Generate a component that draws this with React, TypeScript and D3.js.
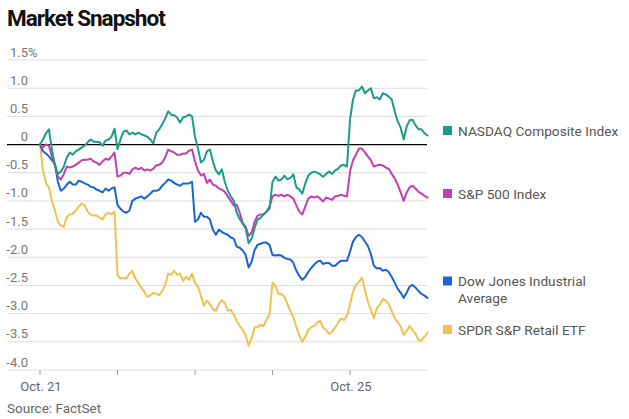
import React from "react";
import * as d3 from "d3";

// Percent change from Oct. 21 open, sampled every 15 minutes (26 intervals per trading day)
const dayLabels = ["Oct. 21", "", "", "", "Oct. 25"];
const intervalsPerDay = 26;
const yTicks = [1.5, 1.0, 0.5, 0, -0.5, -1.0, -1.5, -2.0, -2.5, -3.0, -3.5, -4.0];
const seriesNames = ["NASDAQ Composite Index", "S&P 500 Index", "Dow Jones Industrial Average", "SPDR S&P Retail ETF"];

const nasdaq = [
  0.00, 0.09, 0.20, 0.27, -0.09, -0.36, -0.52, -0.48, -0.39, -0.23, -0.14, -0.18, -0.12, -0.09, -0.05, -0.02, 0.04, 0.09, 0.05, 0.05, 0.04, -0.02, 0.07, 0.09, 0.14, 0.28,
  -0.08, 0.09, 0.23, 0.25, 0.18, 0.21, 0.18, 0.21, 0.18, 0.16, 0.14, 0.09, 0.02, 0.21, 0.27, 0.36, 0.46, 0.59, 0.53, 0.52, 0.48, 0.39, 0.48, 0.50, 0.53, 0.50,
  0.14, -0.07, -0.32, -0.27, -0.12, -0.09, -0.30, -0.46, -0.53, -0.44, -0.66, -0.82, -0.92, -1.00, -1.21, -1.32, -1.40, -1.49, -1.75, -1.67, -1.48, -1.33, -1.30, -1.24, -1.19, -1.14,
  -0.66, -0.57, -0.64, -0.62, -0.55, -0.62, -0.59, -0.53, -0.76, -0.80, -0.87, -0.69, -0.55, -0.50, -0.48, -0.50, -0.53, -0.57, -0.52, -0.48, -0.52, -0.46, -0.43, -0.37, -0.36, -0.39,
  0.44, 0.80, 0.96, 0.96, 1.03, 0.91, 0.96, 1.00, 0.82, 0.84, 0.80, 0.91, 0.89, 0.85, 0.80, 0.59, 0.41, 0.30, 0.09, 0.32, 0.43, 0.44, 0.34, 0.27, 0.27, 0.20, 0.16,
];

const sp500 = [
  0.00, -0.05, 0.00, -0.02, -0.21, -0.37, -0.57, -0.62, -0.52, -0.39, -0.41, -0.39, -0.36, -0.32, -0.28, -0.27, -0.27, -0.25, -0.30, -0.32, -0.36, -0.30, -0.25, -0.27, -0.21, -0.14,
  -0.57, -0.55, -0.50, -0.50, -0.52, -0.44, -0.41, -0.44, -0.41, -0.46, -0.44, -0.46, -0.43, -0.37, -0.36, -0.32, -0.23, -0.09, -0.12, -0.14, -0.18, -0.18, -0.16, -0.16, -0.11, -0.09,
  -0.30, -0.46, -0.55, -0.52, -0.68, -0.62, -0.71, -0.73, -0.78, -0.80, -0.84, -0.92, -1.00, -1.08, -1.07, -1.21, -1.39, -1.46, -1.62, -1.56, -1.37, -1.26, -1.24, -1.24, -1.19, -1.10,
  -0.92, -0.89, -0.91, -0.89, -0.92, -0.89, -0.92, -0.96, -1.08, -1.19, -1.24, -1.10, -0.96, -0.92, -0.94, -0.92, -0.96, -1.01, -0.94, -0.96, -0.98, -0.92, -0.91, -0.89, -0.91, -0.92,
  -0.48, -0.28, -0.18, -0.07, -0.07, -0.14, -0.21, -0.28, -0.39, -0.37, -0.36, -0.37, -0.41, -0.43, -0.52, -0.60, -0.71, -0.85, -1.00, -0.85, -0.76, -0.73, -0.78, -0.84, -0.87, -0.91, -0.94,
];

const dow = [
  0.00, -0.12, -0.16, -0.21, -0.28, -0.34, -0.66, -0.82, -0.78, -0.71, -0.66, -0.71, -0.71, -0.64, -0.66, -0.69, -0.71, -0.75, -0.76, -0.80, -0.82, -0.85, -0.78, -0.82, -0.78, -0.76,
  -1.07, -1.14, -1.19, -1.21, -1.17, -1.00, -0.96, -0.94, -0.92, -0.96, -0.92, -0.87, -0.82, -0.82, -0.80, -0.73, -0.68, -0.62, -0.64, -0.68, -0.71, -0.73, -0.69, -0.69, -0.69, -0.66,
  -1.37, -1.33, -1.21, -1.28, -1.28, -1.33, -1.51, -1.60, -1.51, -1.55, -1.58, -1.60, -1.65, -1.67, -1.81, -1.83, -1.88, -1.96, -2.18, -2.08, -1.87, -1.78, -1.76, -1.74, -1.74, -1.78,
  -1.96, -1.97, -1.96, -1.97, -2.01, -2.03, -2.04, -2.10, -2.24, -2.33, -2.40, -2.35, -2.26, -2.19, -2.13, -2.08, -2.06, -2.12, -2.10, -2.10, -2.15, -2.15, -2.10, -2.06, -2.06, -2.06,
  -1.90, -1.72, -1.64, -1.60, -1.64, -1.72, -1.80, -1.94, -2.15, -2.20, -2.19, -2.24, -2.22, -2.26, -2.35, -2.45, -2.56, -2.63, -2.72, -2.63, -2.52, -2.49, -2.54, -2.60, -2.65, -2.68, -2.72,
];

const retail = [
  0.00, -0.46, -0.68, -0.76, -1.00, -1.17, -1.37, -1.44, -1.46, -1.28, -1.24, -1.23, -1.17, -1.10, -1.05, -1.08, -1.19, -1.24, -1.26, -1.26, -1.30, -1.33, -1.24, -1.21, -1.24, -1.19,
  -2.31, -2.38, -2.36, -2.38, -2.29, -2.24, -2.38, -2.45, -2.54, -2.61, -2.70, -2.68, -2.63, -2.65, -2.67, -2.60, -2.49, -2.29, -2.31, -2.24, -2.31, -2.29, -2.42, -2.35, -2.40, -2.29,
  -2.45, -2.52, -2.68, -2.86, -2.77, -2.83, -2.92, -2.95, -2.83, -2.76, -2.81, -2.95, -2.93, -3.02, -3.13, -3.22, -3.29, -3.38, -3.57, -3.43, -3.24, -3.24, -3.20, -3.22, -3.11, -3.02,
  -2.45, -2.51, -2.65, -2.65, -2.70, -2.83, -2.95, -3.06, -3.24, -3.38, -3.50, -3.41, -3.29, -3.24, -3.22, -3.16, -3.13, -3.25, -3.29, -3.36, -3.32, -3.25, -3.16, -3.09, -3.11, -3.04,
  -2.84, -2.61, -2.49, -2.44, -2.36, -2.58, -2.79, -2.93, -3.08, -2.90, -2.84, -2.74, -2.77, -2.83, -2.95, -3.08, -3.15, -3.22, -3.38, -3.31, -3.22, -3.29, -3.36, -3.47, -3.47, -3.41, -3.34,
];

const colors = ["#1e9a8b", "#c13fb3", "#1863d6", "#f1c14f"];
const legendY = [130.5, 193.5, 281, 329.5];

const W = 629;
const H = 419;
const FONT = "Roboto, 'Liberation Sans', Arial, sans-serif";

export default function App() {
  const nDays = dayLabels.length;
  const x = d3.scaleLinear().domain([0, nDays * intervalsPerDay]).range([40, 427.5]);
  const y = d3.scaleLinear().domain([-4, 1.5]).range([370, 60]);
  const gridX0 = 7;
  const gridX1 = 427;

  const line = d3
    .line<number>()
    .x((_, i) => x(i))
    .y((v) => y(v));

  const series = [nasdaq, sp500, dow, retail];
  const drawOrder = [3, 2, 1, 0];

  return (
    <svg
      width={W}
      height={H}
      style={{ position: "absolute", left: 0, top: 0, background: "#fff" }}
      fontFamily={FONT}
    >
      <text x={7} y={26} fontSize={22.5} fontWeight={700} fill="#111" letterSpacing={-1}>
        Market Snapshot
      </text>

      {yTicks.map((t, k) => (
        <g key={t}>
          <line
            x1={gridX0}
            x2={gridX1}
            y1={y(t)}
            y2={y(t)}
            stroke={t === 0 ? "#000" : "#dcdcdc"}
            strokeWidth={t === 0 ? 1.3 : 1}
          />
          <text x={28} y={y(t) - 3.5} fontSize={13} fill="#777" textAnchor="end">
            {t === 0 ? "0" : t.toFixed(1)}
          </text>
          {k === 0 && (
            <text x={28} y={y(t) - 3.5} fontSize={13} fill="#777">
              %
            </text>
          )}
        </g>
      ))}

      {dayLabels.map((lab, d) => (
        <g key={d}>
          <line
            x1={x(d * intervalsPerDay)}
            x2={x(d * intervalsPerDay)}
            y1={370}
            y2={375}
            stroke="#999"
            strokeWidth={1}
          />
          {lab && (
            <text x={x(d * intervalsPerDay) + 1} y={391} fontSize={13} fill="#666" textAnchor="middle">
              {lab}
            </text>
          )}
        </g>
      ))}

      {drawOrder.map((k) => (
        <path
          key={k}
          d={line(series[k]) || ""}
          fill="none"
          stroke={colors[k]}
          strokeWidth={2}
          strokeLinejoin="round"
          strokeLinecap="round"
        />
      ))}

      {seriesNames.map((name, k) => {
        const lines = k === 2 ? ["Dow Jones Industrial", "Average"] : [name];
        return (
          <g key={name}>
            <rect x={443} y={legendY[k] - 4.5} width={9} height={9} fill={colors[k]} />
            {lines.map((ln, j) => (
              <text key={j} x={458} y={legendY[k] + 5 + j * 17} fontSize={13.7} fill="#555">
                {ln}
              </text>
            ))}
          </g>
        );
      })}

      <text x={7} y={413} fontSize={13.5} fill="#666">
        Source: FactSet
      </text>
    </svg>
  );
}
